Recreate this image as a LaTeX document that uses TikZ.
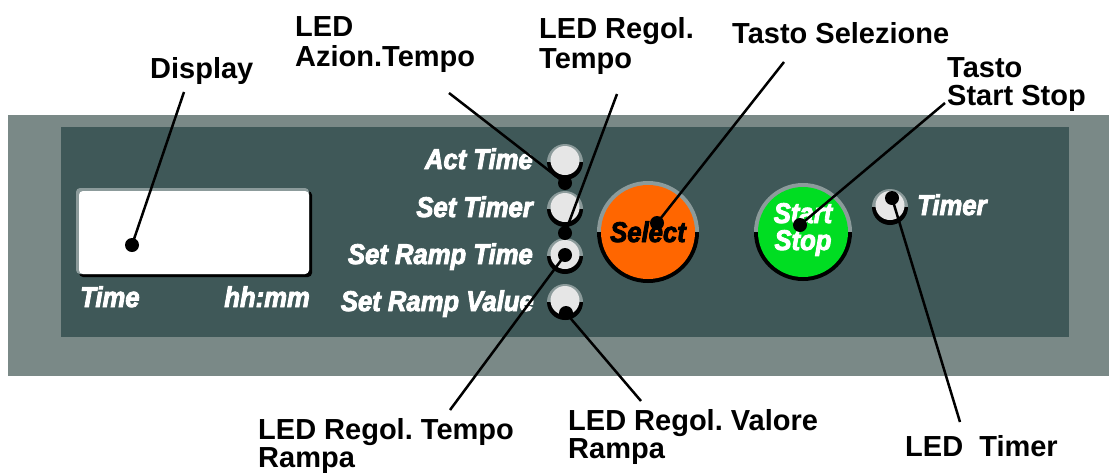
\documentclass[tikz,border=0pt]{standalone}
\usepackage{fontspec}
\setmainfont{Liberation Sans}
\newfontface\panelface[FakeBold=3, FakeStretch=0.9]{Liberation Sans Bold Italic}
\frenchspacing
\definecolor{outerpanel}{RGB}{122,137,135}
\definecolor{innerpanel}{RGB}{63,88,88}
\definecolor{ledfill}{RGB}{230,230,230}
\definecolor{ringgrey}{RGB}{140,155,155}
\definecolor{selorange}{RGB}{255,102,0}
\definecolor{stgreen}{RGB}{0,221,34}
\tikzset{
  callout/.style={line width=2.5pt, black},
  dotmark/.style={circle, fill=black, draw=none, inner sep=0pt, minimum size=14pt},
  lbl/.style={font=\bfseries\fontsize{29}{30}\selectfont, align=left, anchor=base west, inner sep=0pt},
  lbltight/.style={lbl, font=\bfseries\fontsize{29}{28}\selectfont},
  paneltxt/.style={font=\panelface\fontsize{28.5}{27}\selectfont, text=white, inner sep=0pt},
  ledlamp/.pic={
    \fill[ringgrey] (-18,0) arc[start angle=180, end angle=360, radius=18] -- cycle;
    \fill[black] (18,0) arc[start angle=0, end angle=180, radius=18] -- cycle;
    \fill[ledfill] (0,-1.5) circle[radius=14.5];
  },
}
\begin{document}
\begin{tikzpicture}[x=1pt, y=-1pt]
\useasboundingbox (0,0) rectangle (1109,472);
% panels
\fill[outerpanel] (8,115) rectangle (1109,376);
\fill[innerpanel] (61,127) rectangle (1069,337);
% display
\fill[black, rounded corners=4] (79,191) rectangle (312,277);
\fill[ringgrey, rounded corners=4] (76,188) rectangle (309,274);
\fill[white, rounded corners=4] (79,191) rectangle (309,274);
\node[paneltxt, anchor=base west] (timetxt) at (80,307) {Time};
\node[paneltxt, anchor=base east] (hhmm) at (310,307) {hh:mm};
% LEDs
\pic at (565,162) {ledlamp};
\pic at (565,209) {ledlamp};
\pic at (565,256) {ledlamp};
\pic at (565,302) {ledlamp};
\pic at (890,207) {ledlamp};
\node[paneltxt, anchor=base east] (acttime) at (533,169) {Act Time};
\node[paneltxt, anchor=base east] (settimer) at (533,217) {Set Timer};
\node[paneltxt, anchor=base east] (setramptime) at (533,264) {Set Ramp Time};
\node[paneltxt, anchor=base east] (setrampvalue) at (534,311) {Set Ramp Value};
\node[paneltxt, anchor=base west] (timertxt) at (917,215) {Timer};
% Select button
\fill[ringgrey] (597,232) arc[start angle=180, end angle=360, radius=51] -- cycle;
\fill[black] (699,232) arc[start angle=0, end angle=180, radius=51] -- cycle;
\fill[selorange] (648,232) circle[radius=47];
\node[paneltxt, text=black, anchor=base west] (selecttxt) at (610,242) {Select};
% Start Stop button
\fill[ringgrey] (754,232) arc[start angle=180, end angle=360, radius=49] -- cycle;
\fill[black] (852,232) arc[start angle=0, end angle=180, radius=49] -- cycle;
\fill[stgreen] (803,232) circle[radius=45];
\node[paneltxt, align=center, anchor=base] (startstoptxt) at (803,250) {Start\\Stop};
% labels
\node[lbl] (displaylbl) at (150,78) {Display};
\node[lbl] (azionlbl) at (295,66) {LED\\Azion.Tempo};
\node[lbl] (regtempolbl) at (539,68) {LED Regol.\\Tempo};
\node[lbl] (tastosellbl) at (732,43) {Tasto Selezione};
\node[lbltight] (tastosslbl) at (947,105) {Tasto\\Start Stop};
\node[lbltight] (rampatlbl) at (258,467) {LED Regol. Tempo\\Rampa};
\node[lbltight] (rampavlbl) at (568,458) {LED Regol. Valore\\Rampa};
\node[lbl] (ledtimerlbl) at (905,456) {LED\ \ Timer};
% dots
\coordinate (dispdot) at (132,245);
\coordinate (actdot) at (565,183);
\coordinate (setdot) at (565,233);
\coordinate (rampdot) at (565,255);
\coordinate (valdot) at (566,313);
\coordinate (seldot) at (657,223);
\coordinate (ssdot) at (800,225);
\coordinate (timdot) at (892,198);
% free ends
\coordinate (dispend) at (184,92);
\coordinate (actend) at (449,93);
\coordinate (setend) at (617,94);
\coordinate (selend) at (784,62);
\coordinate (ssend) at (945,103);
\coordinate (rampend) at (450,410);
\coordinate (valend) at (641,401);
\coordinate (timend) at (960,422);
% connectors
\draw[callout] (dispend) -- (dispdot);
\draw[callout] (actend) -- (actdot);
\draw[callout] (setend) -- (setdot);
\draw[callout] (selend) -- (seldot);
\draw[callout] (ssend) -- (ssdot);
\draw[callout] (rampend) -- (rampdot);
\draw[callout] (valend) -- (valdot);
\draw[callout] (timend) -- (timdot);
\foreach \d in {dispdot,actdot,setdot,rampdot,valdot,seldot,ssdot,timdot}
  \node[dotmark] at (\d) {};
\end{tikzpicture}
\end{document}
